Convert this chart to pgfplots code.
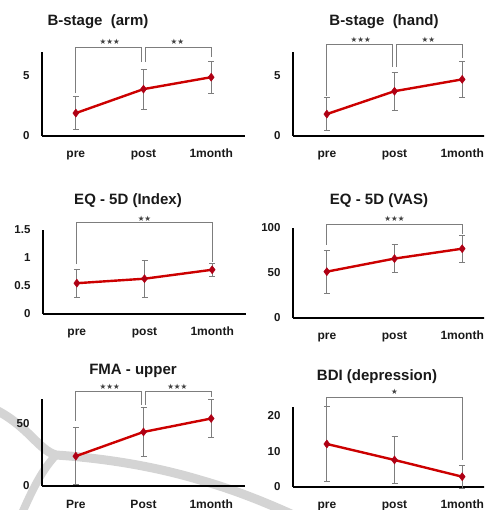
\documentclass[border=0pt]{standalone}
\usepackage{pgfplots}
\pgfplotsset{compat=1.18}
\usepackage{fontspec}
\setmainfont{Liberation Sans}
\newfontfamily\starfont{DejaVu Sans}
\definecolor{lred}{RGB}{204,0,0}
\definecolor{mred}{RGB}{175,0,20}
\definecolor{brk}{RGB}{125,125,125}
\definecolor{ttl}{RGB}{25,25,25}
\newcommand{\stars}[1]{{\starfont\fontsize{7.5}{8}\selectfont\color{darkgray}#1}}
\tikzset{brack/.style={brk, line width=0.9pt}}
\pgfplotsset{
  panel/.style={
    scale only axis, width=203pt, anchor=south west,
    xmin=-0.5, xmax=2.5, ymin=0,
    axis x line=bottom, axis y line=left,
    axis line style={-, line width=1.6pt, black},
    major tick length=0pt,
    xtick={0,1,2}, xticklabels={pre,post,1month},
    xticklabel style={font=\fontsize{12}{13}\selectfont\bfseries, anchor=base, yshift=-22pt, text=ttl},
    yticklabel style={font=\fontsize{11.5}{13}\selectfont\bfseries, xshift=-9pt, text=ttl},
    /pgf/number format/assume math mode=true,
    clip=false,
  },
  series/.style={lred, line width=2.4pt, mark=diamond*, mark size=4pt,
    mark options={fill=mred, draw=mred, line width=0.5pt},
    error bars/.cd, y dir=both, y explicit,
    error bar style={brk, line width=0.9pt},
    error mark options={rotate=90, brk, mark size=3pt, line width=0.9pt}},
}
\begin{document}
\begin{tikzpicture}
\useasboundingbox (0pt,0pt) rectangle (484pt,510pt);
\clip (0pt,0pt) rectangle (484pt,510pt);
% faint watermark
\draw[black!17, line width=9pt, line cap=round] (-8pt,102pt) .. controls (28pt,85pt) and (38pt,60pt) .. (56pt,55pt)
   .. controls (100pt,52pt) and (150pt,45pt) .. (200pt,30pt) .. controls (235pt,20pt) and (265pt,8pt) .. (300pt,-8pt);
\draw[black!17, line width=8pt, line cap=round] (56pt,55pt) .. controls (42pt,40pt) and (32pt,20pt) .. (20pt,-8pt);

% ---------- Panel 1: B-stage (arm)
\begin{axis}[panel, at={(42pt,374pt)}, height=84pt, ymax=6.9, ytick={0,5}]
\addplot+[series] coordinates {(0,1.88) +- (0,1.35) (1,3.85) +- (0,1.65) (2,4.83) +- (0,1.3)};
\draw[brack] (axis cs:0,3.53) |- (axis cs:0.97,7.31) -- (axis cs:0.97,6.06);
\draw[brack] (axis cs:1.03,6.06) |- (axis cs:2,7.31) -- (axis cs:2,6.5);
\node at (axis cs:0.5,7.75) {\stars{★★★}};
\node at (axis cs:1.5,7.75) {\stars{★★}};
\end{axis}

% ---------- Panel 2: B-stage (hand)
\begin{axis}[panel, at={(293pt,374pt)}, height=84pt, ymax=6.9, ytick={0,5}]
\addplot+[series] coordinates {(0,1.8) +- (0,1.35) (1,3.68) +- (0,1.55) (2,4.65) +- (0,1.5)};
\draw[brack] (axis cs:0,3.3) |- (axis cs:0.97,7.48) -- (axis cs:0.97,5.67);
\draw[brack] (axis cs:1.03,5.67) |- (axis cs:2,7.48) -- (axis cs:2,6.43);
\node at (axis cs:0.5,7.92) {\stars{★★★}};
\node at (axis cs:1.5,7.92) {\stars{★★}};
\end{axis}

% ---------- Panel 3: EQ-5D (Index)
\begin{axis}[panel, at={(43pt,196pt)}, height=84pt, ymax=1.5, ytick={0,0.5,1,1.5}]
\addplot+[series] coordinates {(0,0.55) +- (0,0.25) (1,0.63) +- (0,0.33) (2,0.79) +- (0,0.115)};
\draw[brack] (axis cs:0,0.89) |- (axis cs:2,1.643) -- (axis cs:2,0.93);
\node at (axis cs:1,1.70) {\stars{★★}};
\end{axis}

% ---------- Panel 4: EQ-5D (VAS)
\begin{axis}[panel, at={(293pt,192pt)}, height=90pt, ymax=100, ytick={0,50,100}]
\addplot+[series] coordinates {(0,51.5) +- (0,24) (1,66) +- (0,15.5) (2,77) +- (0,15)};
\draw[brack] (axis cs:0,81.3) |- (axis cs:2,104.4) -- (axis cs:2,93.4);
\node at (axis cs:1,109.8) {\stars{★★★}};
\end{axis}

% ---------- Panel 5: FMA - upper
\begin{axis}[panel, at={(42pt,24pt)}, height=87pt, ymax=70, ytick={0,50}, xticklabels={Pre,Post,1month}]
\addplot+[series] coordinates {(0,24) +- (0,23) (1,43.5) +- (0,20) (2,54.3) +- (0,15.3)};
\draw[brack] (axis cs:0,52.4) |- (axis cs:0.97,75.7) -- (axis cs:0.97,65.2);
\draw[brack] (axis cs:1.03,65.2) |- (axis cs:2,75.7) -- (axis cs:2,71.7);
\node at (axis cs:0.5,80) {\stars{★★★}};
\node at (axis cs:1.5,80) {\stars{★★★}};
\end{axis}

% ---------- Panel 6: BDI (depression)
\begin{axis}[panel, at={(293pt,23pt)}, height=80pt, ymax=22.5, ytick={0,10,20}]
\addplot+[series] coordinates {(0,12.1) +- (0,10.6) (1,7.6) +- (0,6.7) (2,2.9) +- (0,3.3)};
\draw[brack] (axis cs:0,22.8) |- (axis cs:2,25.15) -- (axis cs:2,7.6);
\node at (axis cs:1,26.7) {\stars{★}};
\end{axis}

% ---------- titles
\begin{scope}[every node/.style={font=\fontsize{15}{17}\selectfont\bfseries, text=ttl}]
\node at (98pt,488pt) {B-stage\ \ (arm)};
\node at (384pt,488pt) {B-stage\ \ (hand)};
\node at (128pt,309pt) {EQ\ -\ 5D\ (Index)};
\node at (379pt,309pt) {EQ\ -\ 5D\ (VAS)};
\node at (133pt,139pt) {FMA\ -\ upper};
\node at (377pt,133pt) {BDI (depression)};
\end{scope}
\end{tikzpicture}
\end{document}
